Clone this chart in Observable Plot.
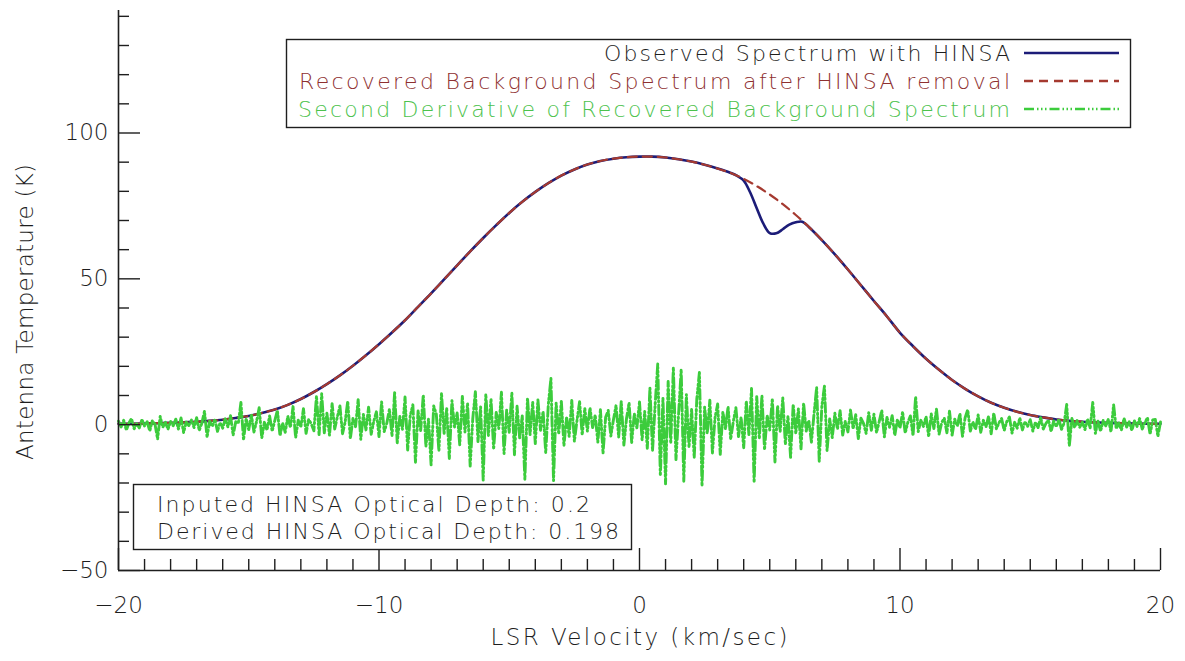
<!DOCTYPE html>
<html><head><meta charset="utf-8">
<script src="https://cdn.jsdelivr.net/npm/d3@7"></script>
<script src="https://cdn.jsdelivr.net/npm/@observablehq/plot@0.6"></script>
<style>
body{margin:0;background:#fff;}
#wrap{position:relative;width:1185px;height:661px;background:#fff;}
#wrap svg{position:absolute;left:0;top:0;}
</style></head><body><div id="wrap"></div>
<script>
// ---------- data ----------
// Recovered background spectrum (K), velocities -20..20 km/s, step 0.5
const bgStart = -20, bgStep = 0.5;
const bgTemp = [
  0.3, 0.3, 0.4, 0.5, 0.6, 0.8, 1.0, 1.3, 1.7, 2.3,
  3.0, 4.0, 5.2, 6.8, 8.8, 11.2, 13.9, 16.9, 20.2, 23.8,
  27.6, 31.6, 35.8, 40.4, 45.0, 49.8, 54.6, 59.4, 64.0, 68.4,
  72.6, 76.4, 79.8, 82.8, 85.4, 87.5, 89.2, 90.4, 91.2, 91.7,
  91.9, 91.9, 91.6, 91.0, 90.2, 89.1, 87.8, 86.3, 84.3, 81.8,
  78.9, 75.6, 71.9, 67.8, 63.3, 58.4, 53.2, 47.8, 42.4, 37.1,
  31.5, 26.9, 22.6, 18.8, 15.3, 12.3, 9.7, 7.5, 5.8, 4.4,
  3.3, 2.5, 1.8, 1.3, 1.0, 0.8, 0.6, 0.5, 0.4, 0.3, 0.3
];
// Observed spectrum inside the HINSA absorption dip
const dipVel  = [3.75, 4.0, 4.25, 4.5, 4.75, 5.0, 5.25, 5.5, 5.75, 6.0, 6.25];
const dipTemp = [85.3, 83.7, 79.6, 74.2, 69.0, 65.7, 65.6, 67.0, 68.6, 69.4, 69.6];
// Second derivative of recovered background (scaled), velocities -20..20, step 0.1
const d2Start = -20, d2Step = 0.1;
const d2Temp = [
  1.2,-0.8,1.5,-1.9,0.6,2.1,-1.4,0.3,-1.1,1.8,
  -0.5,1.0,-2.2,1.4,0.2,-4.9,2.8,-0.9,0.8,-1.6,
  1.1,-0.4,1.9,-1.5,2.3,-2.7,0.9,-0.3,1.6,-1.0,
  2.4,-2.0,0.5,4.6,-4.3,1.2,-0.6,1.9,-2.3,0.7,
  -1.2,2.0,-0.8,3.1,-3.6,1.0,0.4,7.6,-5.2,2.1,
  -1.7,3.4,-2.5,1.1,5.8,-4.6,0.8,-1.9,3.0,-2.2,
  1.4,4.9,-3.8,0.6,-2.6,2.9,-1.0,6.2,-4.4,1.5,
  -0.9,5.5,-3.0,1.8,0.3,-2.1,9.8,-3.4,10.6,-2.8,
  3.9,-3.6,7.2,-1.5,2.6,6.4,-3.1,0.9,8.1,-4.8,
  2.2,-0.7,8.6,-5.0,3.5,-1.8,6.0,-3.3,1.2,4.4,
  -4.1,7.8,-2.4,0.5,5.3,-3.9,11.0,-6.2,2.8,-1.6,
  9.5,-8.7,3.1,6.8,-12.9,4.7,-2.0,10.2,-7.5,1.9,
  -13.8,6.4,3.6,-9.1,10.8,-3.0,5.5,-11.6,8.2,-0.8,
  4.0,-6.9,9.7,-2.5,7.3,-14.2,2.1,11.3,-5.8,6.1,
  -19.0,10.4,-3.7,8.8,-8.4,4.2,-1.3,11.1,-9.9,5.0,
  -2.6,10.9,-10.3,6.3,-4.5,3.0,-18.8,9.2,-3.4,7.7,
  -6.5,8.5,-1.9,4.6,-9.6,6.9,15.9,-19.2,7.4,-3.2,
  8.0,-7.2,2.7,-4.0,8.3,-5.7,1.4,7.9,-3.5,5.6,
  -2.2,5.8,-1.0,3.3,-6.0,5.1,-9.8,2.5,4.9,-3.9,
  1.7,6.6,-4.3,8.0,-7.0,2.0,7.5,-6.1,3.8,-1.1,
  7.8,-5.2,4.5,-8.1,12.6,-9.0,6.7,20.8,-17.5,9.1,
  -20.3,14.8,-6.4,19.6,-12.0,3.5,18.9,-19.4,10.3,-7.7,
  5.2,-11.4,8.8,17.9,-21.0,6.0,-3.1,8.4,-9.7,2.4,
  7.1,-10.2,4.4,-1.5,6.2,-5.0,1.0,5.8,-4.1,2.6,
  -7.9,8.1,-3.4,12.4,-19.8,9.6,-4.8,10.0,-8.6,3.2,
  -1.8,8.9,-12.8,6.5,-2.4,9.2,-6.7,2.9,-11.2,7.0,
  -3.0,5.4,-8.3,7.4,-2.2,1.5,-6.0,3.7,12.8,-12.6,
  6.3,13.2,-8.9,2.0,-4.4,3.9,-1.6,4.8,-3.6,1.2,
  -2.5,5.0,-1.4,3.4,-4.8,2.2,0.4,-3.0,4.1,-1.9,
  3.6,-2.7,1.0,4.9,-4.2,2.5,-0.9,3.1,-3.7,1.8,
  -1.2,4.4,-2.9,0.8,3.0,-3.8,9.6,-2.4,1.5,-0.6,
  2.8,-4.1,3.7,-1.3,5.3,-3.3,0.7,2.2,-2.8,4.6,
  -3.6,1.9,-0.5,3.8,-4.0,2.4,5.1,-2.2,0.9,-1.7,
  3.3,-2.6,1.5,-0.8,2.9,-3.1,4.0,-1.4,0.6,2.1,
  -2.0,1.1,2.6,-2.9,0.8,-1.2,2.3,-1.8,1.0,-0.6,
  1.7,-2.2,0.9,-1.0,2.5,-1.5,0.4,1.6,-2.4,1.3,
  -0.7,1.9,-1.6,0.5,6.9,-7.3,2.1,-1.0,1.4,-0.9,
  0.8,-1.7,2.0,-1.1,7.6,-3.0,1.2,-2.3,1.5,-0.4,
  1.9,-2.5,6.8,-1.4,0.6,-1.9,2.2,-0.8,1.0,-2.0,
  1.3,-0.6,2.1,-1.5,0.7,2.4,-3.3,1.6,1.8,-4.0,
  0.9
];
// axes
const xDomain = [-20, 20];
const yDomain = [-50, 142];
const xMajor = [-20, -10, 0, 10, 20];
const xMinor = [-19,-18,-17,-16,-15,-14,-13,-12,-11,-9,-8,-7,-6,-5,-4,-3,-2,-1,1,2,3,4,5,6,7,8,9,11,12,13,14,15,16,17,18,19];
const yMajor = [-50, 0, 50, 100];
const yMinor = [-40,-30,-20,-10,10,20,30,40,60,70,80,90,110,120,130,140];
const xTitle = "LSR Velocity (km/sec)";
const yTitle = "Antenna Temperature (K)";
// legend and annotation
const legendLabels = ["Observed Spectrum with HINSA", "Recovered Background Spectrum after HINSA removal", "Second Derivative of Recovered Background Spectrum"];
const legendTextColors = ["#1e1e1e", "#8e3030", "#4cc24c"];
const seriesColors = ["#1c1c78", "#a53a30", "#3ccc3c"];
const seriesDash = [null, "9,6", "10,3,1.5,2.5,1.5,2.5,1.5,3"];
const noteLines = ["Inputed HINSA Optical Depth: 0.2", "Derived HINSA Optical Depth: 0.198"];

// ---------- build tables ----------
const background = bgTemp.map((t, i) => ({v: bgStart + i * bgStep, t}));
const observed = background
  .filter(d => d.v < dipVel[0] || d.v > dipVel[dipVel.length - 1])
  .concat(dipVel.map((v, i) => ({v, t: dipTemp[i]})))
  .sort((a, b) => a.v - b.v);
const deriv = d2Temp.map((t, i) => ({v: +(d2Start + i * d2Step).toFixed(2), t}));

// ---------- layout ----------
const W = 1185, H = 661, mL = 118, mR = 25, mT = 10, mB = 91;
const pxPerY = (H - mT - mB) / (yDomain[1] - yDomain[0]);
const pxPerX = (W - mL - mR) / (xDomain[1] - xDomain[0]);
const majorLen = 22, minorLen = 11;
const ink = "#1e1e1e";
const FONT = "'DejaVu Sans', sans-serif";

const plot = Plot.plot({
  width: W, height: H,
  marginLeft: mL, marginRight: mR, marginTop: mT, marginBottom: mB,
  style: {fontFamily: FONT, fontSize: "23px", color: ink, background: "transparent", fontWeight: 200},
  x: {domain: xDomain, ticks: xMajor, tickSize: 0, tickPadding: 26, label: null},
  y: {domain: yDomain, ticks: yMajor, tickSize: 0, tickPadding: 10, label: null},
  marks: [
    Plot.line(observed, {x: "v", y: "t", stroke: seriesColors[0], strokeWidth: 2.6, curve: "catmull-rom"}),
    Plot.line(background, {x: "v", y: "t", stroke: seriesColors[1], strokeWidth: 2.2, strokeDasharray: seriesDash[1], curve: "catmull-rom"}),
    Plot.line(deriv, {x: "v", y: "t", stroke: seriesColors[2], strokeWidth: 2.9, strokeDasharray: seriesDash[2]}),
    Plot.ruleX([xDomain[0]], {y1: yDomain[0], y2: yDomain[1], stroke: ink, strokeWidth: 1.6}),
    Plot.ruleY([yDomain[0]], {x1: xDomain[0], x2: xDomain[1], stroke: ink, strokeWidth: 1.6}),
    Plot.ruleX(xMajor, {y1: yDomain[0], y2: yDomain[0] + majorLen / pxPerY, stroke: ink, strokeWidth: 1.4}),
    Plot.ruleX(xMinor, {y1: yDomain[0], y2: yDomain[0] + minorLen / pxPerY, stroke: ink, strokeWidth: 1.4}),
    Plot.ruleY(yMajor, {x1: xDomain[0], x2: xDomain[0] + majorLen / pxPerX, stroke: ink, strokeWidth: 1.4}),
    Plot.ruleY(yMinor, {x1: xDomain[0], x2: xDomain[0] + minorLen / pxPerX, stroke: ink, strokeWidth: 1.4})
  ]
});
const wrap = document.getElementById("wrap");
wrap.appendChild(plot);

// ---------- overlay: legend, note box, axis titles ----------
const ov = d3.create("svg").attr("width", W).attr("height", H)
  .style("font-family", FONT).style("font-weight", 200).style("pointer-events", "none");

// legend box
const lg = {x: 286, y: 39, w: 844, h: 88, textRight: 1010, rowY: [53, 81, 109], lineX1: 1024, lineX2: 1119,
            widths: [406, 711, 712]};
ov.append("rect").attr("x", lg.x + 0.5).attr("y", lg.y + 0.5).attr("width", lg.w).attr("height", lg.h)
  .attr("fill", "#fff").attr("stroke", ink).attr("stroke-width", 1.4);
legendLabels.forEach((lab, i) => {
  ov.append("text").attr("x", lg.textRight).attr("y", lg.rowY[i] + 8)
    .attr("text-anchor", "end").attr("font-size", 22).attr("fill", legendTextColors[i])
    .attr("textLength", lg.widths[i]).attr("lengthAdjust", "spacing").text(lab);
  const ln = ov.append("line").attr("x1", lg.lineX1).attr("x2", lg.lineX2)
    .attr("y1", lg.rowY[i]).attr("y2", lg.rowY[i])
    .attr("stroke", seriesColors[i]).attr("stroke-width", i === 0 ? 2.6 : 2.6);
  if (seriesDash[i]) ln.attr("stroke-dasharray", seriesDash[i]);
});

// note box
const nb = {x: 133, y: 484, w: 498, h: 65, textX: 157, base: [512, 539], widths: [433, 462]};
ov.append("rect").attr("x", nb.x + 0.5).attr("y", nb.y + 0.5).attr("width", nb.w).attr("height", nb.h)
  .attr("fill", "#fff").attr("stroke", ink).attr("stroke-width", 1.4);
noteLines.forEach((t, i) => {
  ov.append("text").attr("x", nb.textX).attr("y", nb.base[i]).attr("font-size", 22).attr("fill", ink)
    .attr("textLength", nb.widths[i]).attr("lengthAdjust", "spacing").text(t);
});

// axis titles
ov.append("text").attr("x", 639).attr("y", 645).attr("text-anchor", "middle")
  .attr("font-size", 23).attr("fill", ink).attr("textLength", 297).attr("lengthAdjust", "spacing").text(xTitle);
ov.append("text").attr("transform", "translate(33,312) rotate(-90)").attr("text-anchor", "middle")
  .attr("font-size", 23).attr("fill", ink).attr("textLength", 296).attr("lengthAdjust", "spacing").text(yTitle);

wrap.appendChild(ov.node());
</script>
</body></html>
